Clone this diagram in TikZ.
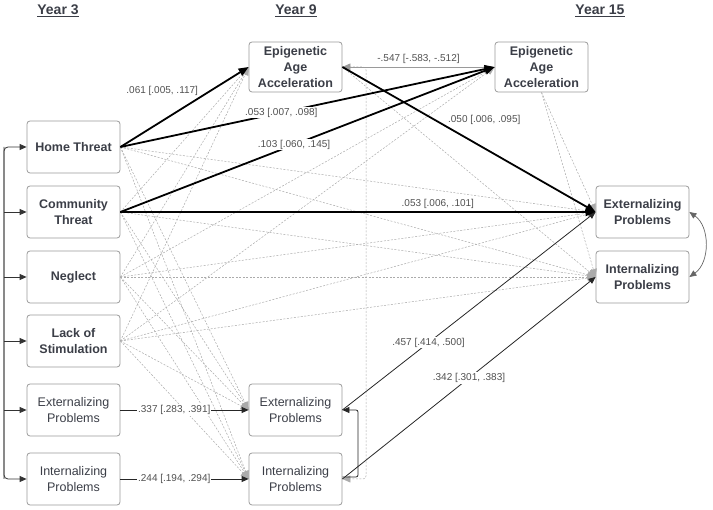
\documentclass[tikz,border=0pt]{standalone}
\usepackage{fontspec}
\setmainfont{Liberation Sans}
\usetikzlibrary{arrows.meta}
\definecolor{boxtext}{HTML}{3B3E47}
\definecolor{boxline}{HTML}{9A9A9A}
\definecolor{nsgray}{HTML}{ABABAB}
\definecolor{labgray}{HTML}{505050}

\begin{document}
\begin{tikzpicture}[x=1pt, y=-1pt,
    box/.style={draw=boxline, line width=0.8pt, rounded corners=3pt, minimum width=93pt, minimum height=52pt, align=center, text=boxtext, font=\fontsize{12.5}{16}\selectfont},
    boldbox/.style={box, font=\fontsize{12.5}{16}\selectfont\bfseries},
    year/.style={text=boxtext, font=\fontsize{14}{16}\selectfont\bfseries},
    sig/.style={line width=1.8pt, -{Triangle[length=10pt, width=8pt]}},
    sigthin/.style={line width=0.8pt, draw=black!85, -{Triangle[length=7pt, width=6pt]}},
    ns/.style={draw=nsgray, line width=0.5pt, dash pattern=on 2pt off 1.5pt, -{Triangle[length=8pt, width=7pt]}},
    est/.style={text=labgray, font=\fontsize{10}{12}\selectfont, inner sep=1pt},
    estw/.style={est, fill=white}]

    \useasboundingbox (0,0) rectangle (713,510);

    % years
    \node[year] (y3) at (58,11) {\underline{Year 3}};
    \node[year] (y9) at (296,11) {\underline{Year 9}};
    \node[year] (y15) at (600,11) {\underline{Year 15}};

    % year 3
    \node[boldbox] (ht) at (73.5,147) {Home Threat};
    \node[boldbox] (ct) at (73.5,212) {Community\\Threat};
    \node[boldbox] (neg) at (73.5,277) {Neglect};
    \node[boldbox] (los) at (73.5,341) {Lack of\\Stimulation};
    \node[box] (ext3) at (73.5,410) {Externalizing\\Problems};
    \node[box] (int3) at (73.5,479) {Internalizing\\Problems};

    % year 9
    \node[boldbox, minimum height=50pt] (epi9) at (295.5,67) {Epigenetic\\Age\\Acceleration};
    \node[box] (ext9) at (295.5,410) {Externalizing\\Problems};
    \node[box] (int9) at (295.5,479) {Internalizing\\Problems};

    % year 15
    \node[boldbox, minimum height=50pt] (epi15) at (541.5,67) {Epigenetic\\Age\\Acceleration};
    \node[boldbox] (ext15) at (642.5,212) {Externalizing\\Problems};
    \node[boldbox] (int15) at (642.5,277) {Internalizing\\Problems};

    \coordinate (bus) at (4,0);
    \coordinate (vbr) at (358,0);
    \coordinate (vline) at (366,0);

    % non significant paths
    \foreach \s/\t in {ht/ext9, ht/int9, ht/ext15, ht/int15,
        ct/epi9, ct/ext9, ct/int9, ct/int15,
        neg/epi9, neg/ext9, neg/int9, neg/epi15, neg/ext15, neg/int15,
        los/epi9, los/ext9, los/int9, los/epi15, los/ext15, los/int15,
        epi9/int15}
        \draw[ns] (\s.east) -- (\t.west);
    \foreach \t in {ext15, int15}
        \draw[ns] (epi15.south) -- (\t.west);
    \draw[ns, rounded corners=3pt] (epi9.east) -| (int9.east -| vline) -- (int9.east);

    % covariances
    \draw[draw=black!80, line width=0.8pt, rounded corners=4pt, -{Triangle[length=7pt, width=6pt]}] (int3.west -| bus) |- (ht.west);
    \draw[draw=black!80, line width=0.8pt, rounded corners=4pt, -{Triangle[length=7pt, width=6pt]}] (ht.west -| bus) |- (int3.west);
    \foreach \n in {ct, neg, los, ext3}
        \draw[draw=black!80, line width=0.8pt, -{Triangle[length=7pt, width=6pt]}] (\n.west -| bus) -- (\n.west);
    \draw[sigthin, rounded corners=2pt] ([yshift=2pt]int9.east) -- ([yshift=2pt]int9.east -| vbr) |- (ext9.east);
    \draw[draw=black!60, line width=0.7pt, {Triangle[length=7pt, width=6pt]}-{Triangle[length=7pt, width=6pt]}] (ext15.east) to[bend left=55] (int15.east);
    \draw[draw=boxline, line width=0.8pt, -{Triangle[length=8pt, width=7pt]}] (epi15.west) -- node[est, above=2pt] {-.547 [-.583, -.512]} (epi9.east);

    % significant paths
    \draw[sigthin] (ext3.east) -- node[estw, pos=.42] {.337 [.283, .391]} (ext9.west);
    \draw[sigthin] (int3.east) -- node[estw, pos=.42] {.244 [.194, .294]} (int9.west);
    \draw[sigthin] (ext9.east) -- node[estw, pos=.34] {.457 [.414, .500]} (ext15.west);
    \draw[sigthin] (int9.east) -- node[estw, pos=.5] {.342 [.301, .383]} (int15.west);
    \draw[sig] (ht.east) -- node[est, pos=.62, anchor=south east] {.061 [.005, .117]} (epi9.west);
    \draw[sig] (ht.east) -- node[estw, pos=.43] {.053 [.007, .098]} (epi15.west);
    \draw[sig] (ct.east) -- node[estw, pos=.464] {.103 [.060, .145]} (epi15.west);
    \draw[sig] (ct.east) -- node[est, pos=.668, above=2pt] {.053 [.006, .101]} (ext15.west);
    \draw[sig] (epi9.east) -- node[est, pos=.41, anchor=south west] {.050 [.006, .095]} (ext15.west);

\end{tikzpicture}
\end{document}
